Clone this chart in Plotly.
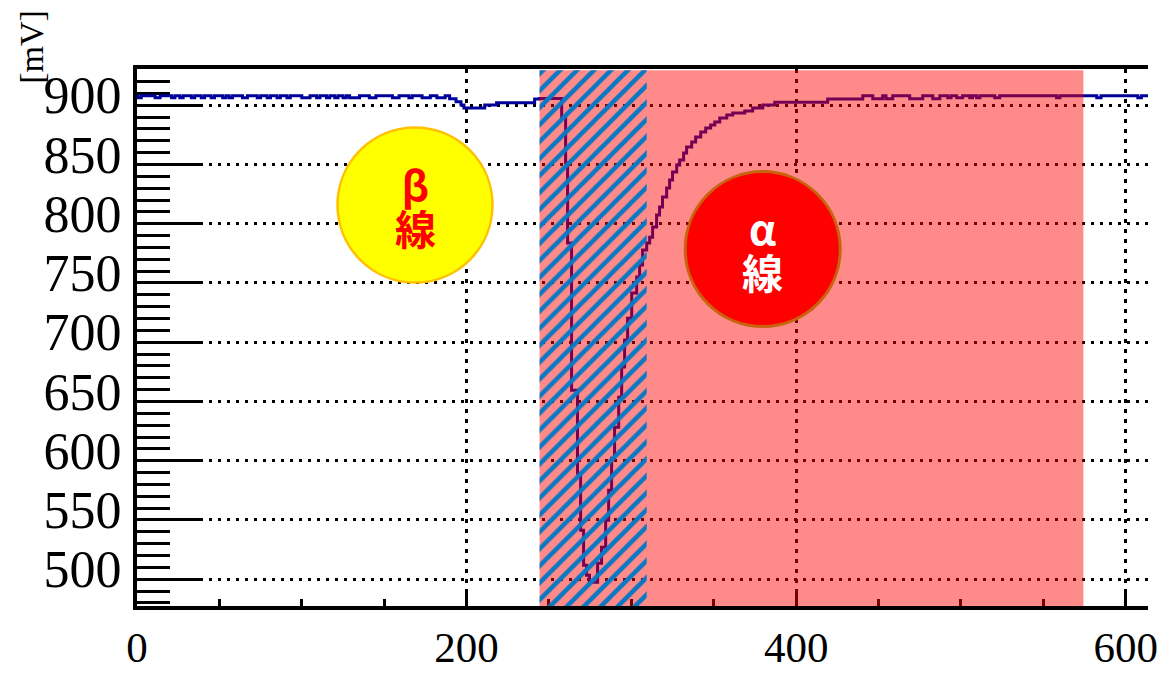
import plotly.graph_objects as go

# Detector output trace: step series, each value holds from t[i] to t[i+1]
t_us = [0, 0.6, 2.6, 11, 14, 21, 23, 26, 28, 33, 35, 39, 41, 45, 47, 52, 54, 56, 58,
        64, 67, 73, 75, 79, 81, 85, 87, 91, 93, 100, 105, 109, 111, 115, 117, 120, 122,
        125, 127, 129, 135, 141, 145, 155, 159, 165, 167, 173, 178, 182, 187,
        189.7, 193.6, 196.6, 198.4, 211.0, 218.2, 241.3, 244.3,
        257.7, 260.1, 261.3, 263.7, 267.3, 269.2, 271.0, 272.8, 274.6,
        279.5, 281.9, 284.4, 286.2, 288.0, 289.8, 292.3, 294.1, 295.9, 297.7,
        300.2, 303.2, 305.0, 306.8, 309.3, 311.1, 312.9, 315.3, 317.1, 318.9,
        321.4, 323.2, 325.0, 327.5, 329.3, 331.7, 333.5, 336.6, 339.0, 342.1,
        345.1, 348.1, 350.6, 353.6, 357.9, 361.5, 368.8, 373.6, 379.7, 387.0,
        419.1, 440.4, 446.5, 452.5, 454.5, 458.6, 468.9, 476.8, 482.9, 487.2,
        492.0, 494.0, 497.4, 501.0, 505.3, 507.0, 509.5, 511.5, 520.5, 523.5,
        558.0, 560.0, 582.4, 585.0, 607.3, 609.5, 613.5]
signal_mv = [908, 906.3, 908, 906.3, 908, 906.3, 908, 906.3, 908, 906.3, 908, 906.3, 908,
             906.3, 908, 906.3, 908, 906.3, 908, 906.3, 908, 906.3, 908, 906.3, 908,
             906.3, 908, 906.3, 908, 906.3, 908, 906.3, 908, 906.3, 908, 906.3, 908,
             906.3, 908, 906.3, 908, 906.3, 908, 906.3, 908, 906.3, 908, 906.3, 908,
             906.3, 908,
             905.5, 903.0, 900.2, 897.6, 900.2, 902.1, 905.3, 905.8,
             889.2, 851.2, 783.7, 659.5, 589.5, 541.3, 511.8, 503.3, 497.4,
             513.5, 527.0, 549.8, 575.1, 602.1, 628.3, 653.6, 679.0, 701.8, 720.3,
             741.5, 755.0, 765.1, 777.8, 783.7, 788.7, 797.2, 807.3, 814.1, 822.5,
             830.1, 836.9, 843.6, 849.5, 853.8, 859.7, 864.7, 869.0, 873.2, 877.4,
             880.8, 883.3, 885.8, 889.2, 891.8, 893.4, 895.1, 897.7, 900.2, 902.5,
             905.3, 908, 905.5, 908, 905.5, 908, 905.5, 908, 905.5, 908,
             906.3, 908, 906.3, 908, 906.3, 908, 906.3, 908, 906.3, 908,
             906.3, 908, 906.3, 908, 906.3, 908, 908]

# Time windows of the two radiation components
ALPHA_WINDOW = (244.3, 574.3)
OVERLAP_WINDOW = (244.3, 309.3)

X_RANGE = [0, 613.5]
Y_RANGE = [477.4, 930.6]

x_ticks = [0, 200, 400, 600]
y_ticks = [500, 550, 600, 650, 700, 750, 800, 850, 900]

SERIF = "Liberation Serif"
CJK = "Noto Sans CJK JP"

fig = go.Figure()

# measured signal
fig.add_trace(go.Scatter(
    x=t_us, y=signal_mv, mode="lines", line=dict(color="#00009A", width=3, shape="hv"),
    hoverinfo="skip", showlegend=False))

# alpha window shading (translucent, over the signal)
a0, a1 = ALPHA_WINDOW
fig.add_trace(go.Scatter(
    x=[a0, a1, a1, a0, a0], y=[470, 470, 929.5, 929.5, 470],
    mode="lines", line=dict(width=0), fill="toself",
    fillcolor="rgba(255,0,0,0.46)", hoverinfo="skip", showlegend=False))

# hatched window where both components overlap
h0, h1 = OVERLAP_WINDOW
fig.add_trace(go.Scatter(
    x=[h0, h1, h1, h0, h0], y=[470, 470, 929.5, 929.5, 470],
    mode="lines", line=dict(width=0), fill="toself",
    fillcolor="rgba(0,0,0,0)",
    fillpattern=dict(shape="/", fgcolor="#0A78C2", bgcolor="rgba(0,0,0,0)",
                     size=12, solidity=0.37, fillmode="replace"),
    hoverinfo="skip", showlegend=False))

# labelled circles
beta_center = (168.7, 815.8)
alpha_center = (379.7, 778.6)
R = 77.5
fig.add_shape(type="circle", xref="x", yref="y", xsizemode="pixel", ysizemode="pixel",
              xanchor=beta_center[0], yanchor=beta_center[1],
              x0=-R, x1=R, y0=-R, y1=R, fillcolor="#FFFF00",
              line=dict(color="#FFC000", width=2.5), layer="above")
fig.add_shape(type="circle", xref="x", yref="y", xsizemode="pixel", ysizemode="pixel",
              xanchor=alpha_center[0], yanchor=alpha_center[1],
              x0=-R, x1=R, y0=-R, y1=R, fillcolor="#FF0000",
              line=dict(color="#C8640E", width=3), layer="above")

# two-line labels: base size sets the line pitch, spans set the glyph size
GLYPH = '<span style="font-size:41px">{}</span>'
for (cx, cy), top, color in [(beta_center, "β", "#FF0000"),
                             (alpha_center, "α", "#FFFFFF")]:
    fig.add_annotation(x=cx, y=cy, xref="x", yref="y",
                       text=GLYPH.format(top) + "<br>" + GLYPH.format("線"),
                       showarrow=False, xanchor="center", yanchor="middle",
                       font=dict(family=CJK, size=34, color=color, weight="bold"))

# unit label
fig.add_annotation(x=-0.104, y=1.041, xref="paper", yref="paper", text="[mV]",
                   textangle=-90, showarrow=False, xanchor="center", yanchor="middle",
                   font=dict(family=SERIF, size=34, color="black"))

fig.update_layout(
    width=1176, height=673,
    margin=dict(l=137, r=28, t=69, b=67),
    paper_bgcolor="white", plot_bgcolor="white",
    showlegend=False,
    xaxis=dict(
        range=X_RANGE, tickmode="array", tickvals=x_ticks,
        ticktext=[str(v) for v in x_ticks], automargin=False,
        ticks="inside", ticklen=17, tickwidth=3, tickcolor="black",
        minor=dict(dtick=50, tick0=0, ticks="inside", ticklen=7, tickwidth=3,
                   tickcolor="black", showgrid=False),
        showgrid=True, gridcolor="black", gridwidth=3, griddash="4px,6px",
        showline=True, linecolor="black", linewidth=4, mirror=True,
        zeroline=False, layer="below traces",
        tickfont=dict(family=SERIF, size=43, color="black"),
        ticklabelstandoff=0,
    ),
    yaxis=dict(
        range=Y_RANGE, tickmode="array", tickvals=y_ticks,
        ticktext=[str(v) for v in y_ticks], automargin=False,
        ticks="inside", ticklen=63, tickwidth=3, tickcolor="black",
        minor=dict(dtick=10, tick0=500, ticks="inside", ticklen=33, tickwidth=3,
                   tickcolor="black", showgrid=False),
        showgrid=True, gridcolor="black", gridwidth=3, griddash="3px,6px",
        showline=True, linecolor="black", linewidth=4, mirror=False,
        zeroline=False, layer="below traces",
        tickfont=dict(family=SERIF, size=52, color="black"),
        ticklabelshift=-10, ticklabelstandoff=1,
    ),
    yaxis2=dict(
        range=Y_RANGE, overlaying="y", side="left", tickmode="linear",
        tick0=541.4, dtick=8.6, ticks="inside", ticklen=6, tickwidth=3,
        tickcolor="black", showticklabels=False, showgrid=False, showline=False,
        zeroline=False, layer="below traces", automargin=False,
    ),
)

fig.write_html("out.html")
